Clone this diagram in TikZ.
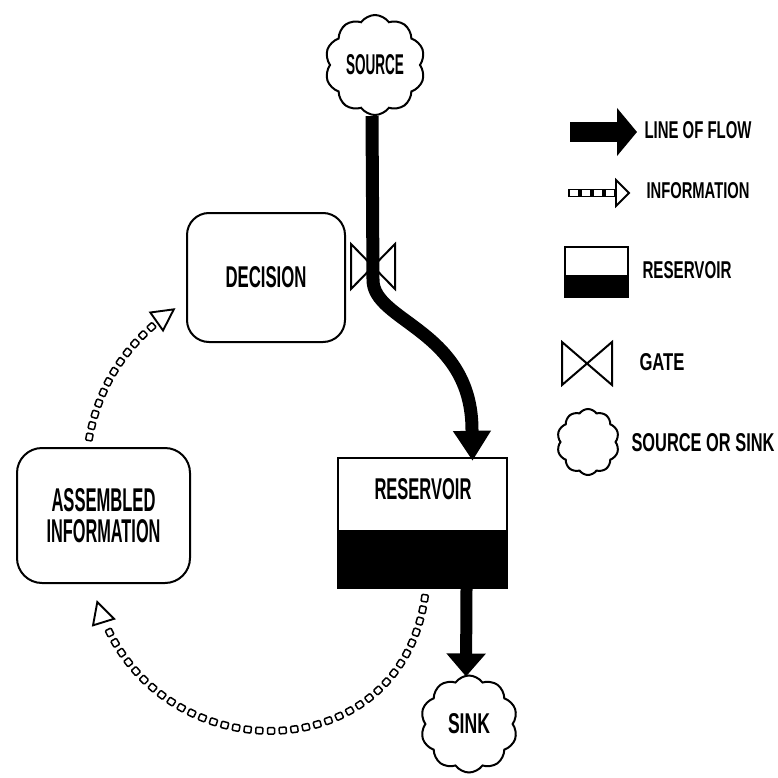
\documentclass[tikz,border=0pt]{standalone}
\usepackage{fontspec}
\setmainfont{Liberation Sans}
\usetikzlibrary{arrows.meta,shapes.symbols,decorations.markings}
% hand-lettered caps: squeeze a word into a given width and cap height
\newcommand{\handtxt}[3]{\resizebox{#1pt}{#2pt}{\bfseries #3}}
\begin{document}
\begin{tikzpicture}[x=1pt,y=-1pt,
  outline/.style={draw, line width=2pt},
  box/.style={outline, rounded corners=#1, inner sep=0pt},
  cloudy/.style={outline, cloud, cloud puffs=10, cloud puff arc=110, aspect=1, inner sep=0pt},
  flow/.style={line width=13pt},
  lbl/.style={inner sep=0pt},
  tank/.style={draw, line width=2.4pt, inner sep=0pt,
    path picture={\fill[black] (path picture bounding box.south west)
      rectangle ([yshift=#1]path picture bounding box.south east);}},
  gatestyle/.style={line width=2pt, fill=white, line join=miter},
  infochain/.style={decoration={markings,
     mark=between positions 2pt and -24pt step 11.7pt with
       {\draw[line width=1.5pt, fill=white, rounded corners=1pt] (-3.5pt,-3.2pt) rectangle (3.5pt,3.2pt);},
     mark=at position -1.5pt with
       {\draw[line width=1.9pt, fill=white, line join=miter] (0,0) -- (-21pt,11pt) -- (-21pt,-11pt) -- cycle;}},
     postaction={decorate}},
  infolegend/.style={decoration={markings,
     mark=between positions 6pt and 43pt step 12pt with
       {\draw[line width=1.4pt, fill=white] (-5pt,-3.5pt) rectangle (5pt,3.5pt);},
     mark=at position -1pt with
       {\draw[line width=1.8pt, fill=white, line join=miter] (0,0) -- (-13pt,13pt) -- (-13pt,-13pt) -- cycle;}},
     postaction={decorate}},
]
\useasboundingbox (0,0) rectangle (778,778);
\fill[white] (0,0) rectangle (778,778);

% ---- main diagram ----
\node[cloudy, minimum width=100pt, minimum height=100pt] (src) at (375,65) {\handtxt{58}{20}{SOURCE}};
\node[box=22pt, minimum width=158pt, minimum height=129pt] (dec) at (266,277.5) {\handtxt{81}{21}{DECISION}};
\node[box=25pt, minimum width=173pt, minimum height=135pt, align=center] (asm) at (103.5,515.5)
  {\handtxt{104}{23}{ASSEMBLED}\\[6pt]\handtxt{114}{23}{INFORMATION}};
\node[tank=58pt, minimum width=169pt, minimum height=130pt] (res) at (422.5,523) {};
\node[lbl] (restxt) at (423,489) {\handtxt{97}{21}{RESERVOIR}};
\node[cloudy, minimum width=97pt, minimum height=97pt] (snk) at (469,724) {\handtxt{42}{20}{SINK}};

% gate on the inflow
\coordinate (gate) at (373,265);
\draw[gatestyle, shift={(gate)}] (-22,-21) -- (22,24) -- (22,-21) -- (-22,24) -- cycle;

% lines of flow
\draw[flow, -{Triangle[length=30pt,width=36pt]}] ([xshift=-3pt]src.south) -- (373,280)
  .. controls (373,322) and (472,330) .. (472,430) -- ([xshift=50pt,yshift=-4pt]res.north);
\draw[line width=12pt, -{Triangle[length=23pt,width=38pt]}] ([xshift=44pt]res.south) -- ([xshift=-3pt,yshift=-2pt]snk.north);

% information links
\path[infochain] ([xshift=-14.5pt,yshift=8pt]asm.north) .. controls (100,380) and (130,340)
  .. ([xshift=-11pt,yshift=-31pt]dec.west);
\path[infochain] ([xshift=2.5pt,yshift=-7pt]res.south) .. controls (400,775) and (150,775)
  .. ([xshift=-6.5pt,yshift=-17pt]asm.south);

% ---- key ----
\draw[line width=20pt, -{Triangle[length=20pt,width=47pt]}] (570,132) -- (637,132);
\node[lbl] (kflow) at (698,130) {\handtxt{107}{17}{LINE OF FLOW}};
\path[infolegend] (568,193) -- (630,193);
\node[lbl] (kinfo) at (698,191) {\handtxt{103}{16}{INFORMATION}};
\node[tank=22pt, minimum width=63pt, minimum height=50pt] (kres) at (596.5,272) {};
\node[lbl] (krestxt) at (687,270) {\handtxt{89}{17}{RESERVOIR}};
\coordinate (kgate) at (587,363);
\draw[gatestyle, shift={(kgate)}] (-25,-21) -- (25,22) -- (25,-21) -- (-25,22) -- cycle;
\node[lbl] (kgatetxt) at (662,362) {\handtxt{45}{17}{GATE}};
\node[cloudy, minimum width=62pt, minimum height=66pt] (kcloud) at (588,442) {};
\node[lbl] (kcloudtxt) at (703,443) {\handtxt{143}{18}{SOURCE OR SINK}};
\end{tikzpicture}
\end{document}
